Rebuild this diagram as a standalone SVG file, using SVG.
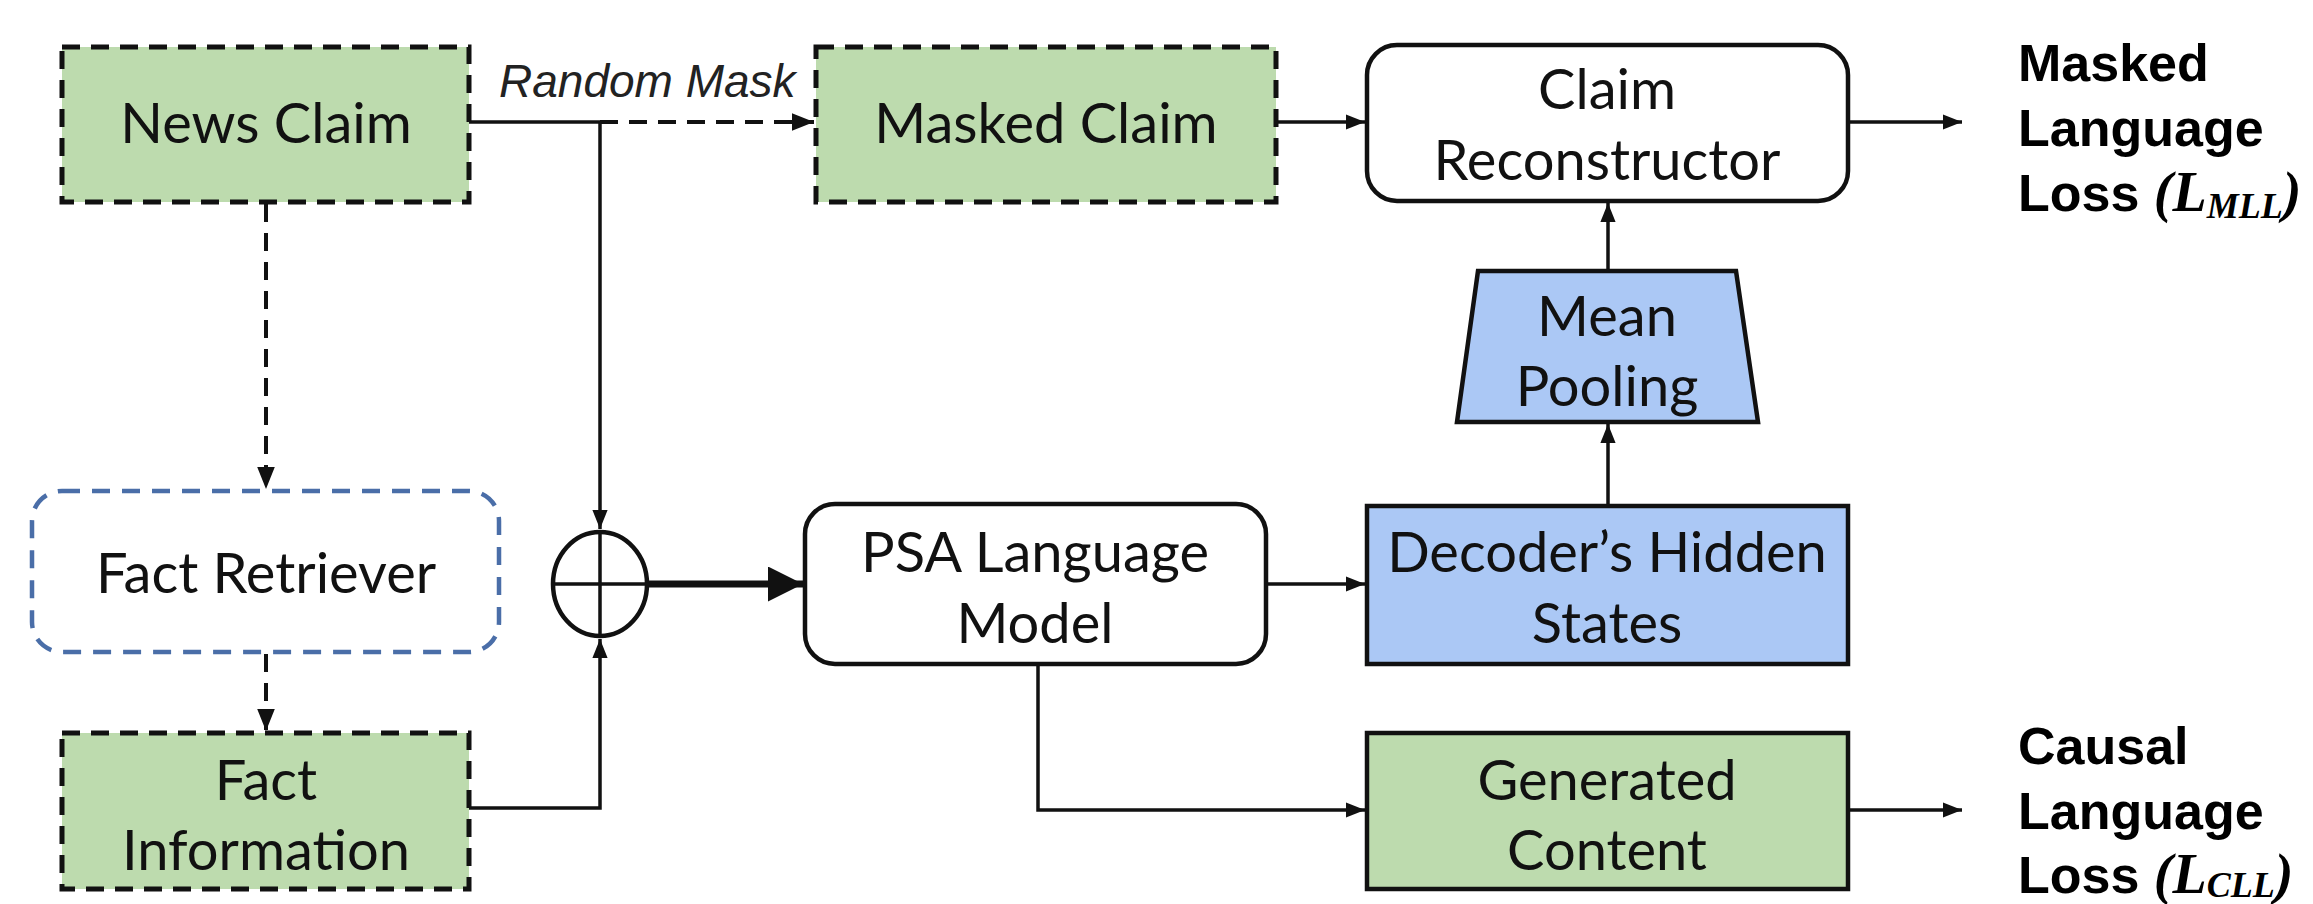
<svg xmlns="http://www.w3.org/2000/svg" width="2313" height="904" viewBox="0 0 2313 904">
<style>
  .lbl{font-family:Lato,"Liberation Sans",sans-serif;font-size:56px;fill:#111;text-anchor:middle}
  .loss{font-family:"Liberation Sans",Arial,sans-serif;font-size:52px;font-weight:bold;fill:#000}
  .math{font-family:"Liberation Serif","DejaVu Serif",serif;font-style:italic;font-weight:bold}
  .green{fill:#bddbae;stroke:#111;stroke-width:5;stroke-dasharray:18 11}
  .greensolid{fill:#bddbae;stroke:#111;stroke-width:4.5}
  .blue{fill:#abc8f5;stroke:#111;stroke-width:4.5}
  .white{fill:#fff;stroke:#111;stroke-width:4.5}
  .ln{fill:none;stroke:#111;stroke-width:3.5}
  .dash{fill:none;stroke:#111;stroke-width:4;stroke-dasharray:18 11}
</style>
<defs>
  <marker id="ah" viewBox="0 0 10 10" refX="10" refY="5" markerWidth="5.5" markerHeight="5.5" orient="auto" markerUnits="strokeWidth">
    <path d="M0,1 L10,5 L0,9 z" fill="#111"/>
  </marker>
  <marker id="ahb" viewBox="0 0 10 10" refX="10" refY="5" markerWidth="5" markerHeight="5" orient="auto" markerUnits="strokeWidth">
    <path d="M0,0 L10,5 L0,10 z" fill="#111"/>
  </marker>
</defs>

<g id="connectors">
  <path class="ln" d="M469,122 H600"/>
  <path class="dash" d="M600,122 H814" marker-end="url(#ah)"/>
  <path class="ln" d="M600,122 V529" marker-end="url(#ah)"/>
  <path class="ln" d="M469,808 H600 V639" marker-end="url(#ah)"/>
  <path class="dash" d="M266,204 V489" marker-end="url(#ah)"/>
  <path class="dash" d="M266,654 V731" marker-end="url(#ah)"/>
  <path fill="none" stroke="#111" stroke-width="7" d="M649,584 H803" marker-end="url(#ahb)"/>
  <path class="ln" d="M1276,122 H1365" marker-end="url(#ah)"/>
  <path class="ln" d="M1848,122 H1962" marker-end="url(#ah)"/>
  <path class="ln" d="M1608,271 V203" marker-end="url(#ah)"/>
  <path class="ln" d="M1608,506 V424" marker-end="url(#ah)"/>
  <path class="ln" d="M1266,584 H1365" marker-end="url(#ah)"/>
  <path class="ln" d="M1038,664 V810 H1365" marker-end="url(#ah)"/>
  <path class="ln" d="M1848,810 H1962" marker-end="url(#ah)"/>
  <text x="499" y="97" font-family="'Liberation Sans',Arial,sans-serif" font-size="46" font-style="italic" fill="#222">Random Mask</text>
</g>

<g id="news-claim">
  <rect class="green" x="62" y="47" width="407" height="155"/>
  <text class="lbl" x="266" y="143">News Claim</text>
</g>
<g id="masked-claim">
  <rect class="green" x="816" y="47" width="460" height="155"/>
  <text class="lbl" x="1046" y="143">Masked Claim</text>
</g>
<g id="claim-reconstructor">
  <rect class="white" x="1367" y="45" width="481" height="156" rx="30"/>
  <text class="lbl" x="1607" y="109">Claim</text>
  <text class="lbl" x="1607" y="180">Reconstructor</text>
</g>
<g id="mean-pooling">
  <path class="blue" d="M1478,271 H1736 L1758,422 H1457 Z"/>
  <text class="lbl" x="1607" y="336">Mean</text>
  <text class="lbl" x="1607" y="406">Pooling</text>
</g>
<g id="fact-retriever">
  <rect x="32" y="491" width="467" height="161" rx="30" fill="#fff" stroke="#4a6ea8" stroke-width="4.5" stroke-dasharray="18 12"/>
  <text class="lbl" x="266" y="593">Fact Retriever</text>
</g>
<g id="fact-information">
  <rect class="green" x="62" y="733" width="407" height="156"/>
  <text class="lbl" x="266" y="800">Fact</text>
  <text class="lbl" x="266" y="870">Information</text>
</g>
<g id="concat">
  <ellipse cx="600" cy="584" rx="47" ry="52" fill="#fff" stroke="#111" stroke-width="4.5"/>
  <path class="ln" d="M553,584 H647 M600,532 V636"/>
</g>
<g id="psa-lm">
  <rect class="white" x="805" y="504" width="461" height="160" rx="30"/>
  <text class="lbl" x="1035" y="572">PSA Language</text>
  <text class="lbl" x="1035" y="643">Model</text>
</g>
<g id="decoder-hidden">
  <rect class="blue" x="1367" y="506" width="481" height="158"/>
  <text class="lbl" x="1607" y="572">Decoder’s Hidden</text>
  <text class="lbl" x="1607" y="643">States</text>
</g>
<g id="generated-content">
  <rect class="greensolid" x="1367" y="733" width="481" height="156"/>
  <text class="lbl" x="1607" y="800">Generated</text>
  <text class="lbl" x="1607" y="870">Content</text>
</g>
<g id="mll">
  <text class="loss" x="2018" y="81">Masked</text>
  <text class="loss" x="2018" y="146">Language</text>
  <text class="loss" x="2018" y="211">Loss <tspan class="math" font-weight="normal" font-size="56">(</tspan><tspan class="math" font-size="56">L</tspan><tspan class="math" font-size="36" dy="7">MLL</tspan><tspan class="math" font-weight="normal" font-size="56" dy="-7">)</tspan></text>
</g>
<g id="cll">
  <text class="loss" x="2018" y="764">Causal</text>
  <text class="loss" x="2018" y="829">Language</text>
  <text class="loss" x="2018" y="893">Loss <tspan class="math" font-weight="normal" font-size="56">(</tspan><tspan class="math" font-size="56">L</tspan><tspan class="math" font-size="36" dy="4">CLL</tspan><tspan class="math" font-weight="normal" font-size="56" dy="-4">)</tspan></text>
</g>
</svg>
